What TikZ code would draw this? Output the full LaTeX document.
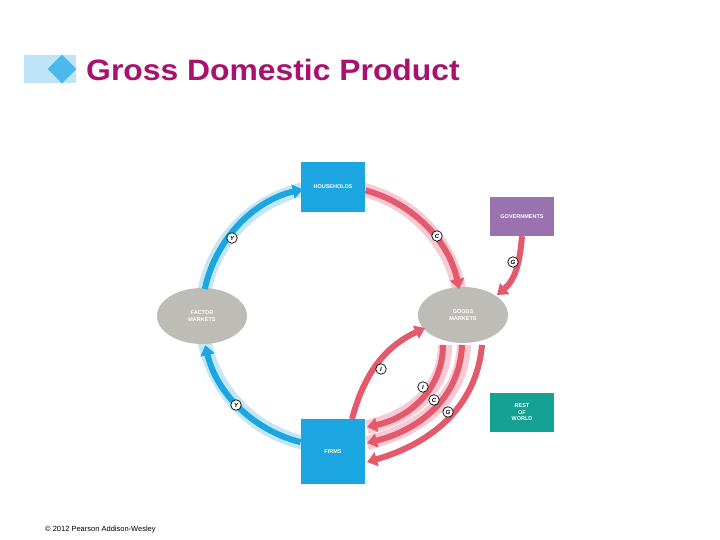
\documentclass[tikz,border=0pt]{standalone}
\usepackage{fontspec}
\setmainfont{Liberation Sans}
\usetikzlibrary{arrows.meta,shapes.geometric}
\definecolor{cblue}{HTML}{1BA6E1}
\definecolor{lblue}{HTML}{C4E6F5}
\definecolor{cred}{HTML}{E25A6B}
\definecolor{lred}{HTML}{F8CBD4}
\definecolor{cgray}{HTML}{BEBCB6}
\definecolor{cpurp}{HTML}{9A72B0}
\definecolor{cteal}{HTML}{16A195}
\definecolor{ctitle}{HTML}{A8126E}
\definecolor{cdia}{HTML}{4BB8EC}
\definecolor{cbar}{HTML}{BFE4F7}
\begin{document}
\begin{tikzpicture}[x=1pt,y=1pt,
  box/.style={fill=#1,minimum width=64pt,text=white,font=\bfseries\fontsize{5.5}{6.5}\selectfont,align=center,inner sep=1pt},
  mkt/.style={ellipse,fill=cgray,minimum width=90pt,minimum height=56pt,text=white,font=\bfseries\fontsize{5.5}{6.5}\selectfont,align=center},
  flowb/.style={cblue,line width=6pt,-{Triangle[length=10pt,width=14pt]}},
  flowr/.style={cred,line width=6pt,-{Triangle[length=10pt,width=14pt]}},
  halob/.style={lblue,line width=14pt},
  halor/.style={lred,line width=14pt},
  lab/.style={circle,draw=black,fill=white,line width=0.7pt,inner sep=0pt,minimum size=10.5pt,font=\bfseries\itshape\fontsize{6}{6}\selectfont}]
\useasboundingbox (0,0) rectangle (720,540);
\fill[white] (0,0) rectangle (720,540);
% title
\fill[cbar] (24,457) rectangle (76,485);
\node[diamond,fill=cdia,minimum width=29pt,minimum height=29pt,inner sep=0pt] (dia) at (62,471) {};
\node[anchor=west,text=ctitle,font=\bfseries\fontsize{29.5}{32}\selectfont,inner sep=0pt,xscale=1.08] (title) at (86,470) {Gross Domestic Product};
\node[anchor=west,font=\fontsize{7.5}{9}\selectfont,inner sep=0pt] (copy) at (45,10) {© 2012 Pearson Addison-Wesley};
\coordinate (O) at (332,224);
% halos
\draw[halob] (O) ++(170:130) arc (170:102:130);
\draw[halob] (O) ++(258:130) arc (258:191:130);
\draw[halor] (O) ++(77:130) arc (77:10:130);
\draw[halor] (445,195) to[out=-90,in=12] (367,113);
\draw[halor] (464,195) to[out=-92,in=14] (367,97);
% nodes
\node[box=cblue,minimum height=50pt] (hh) at (333,353) {HOUSEHOLDS};
\node[box=cblue,minimum height=65pt] (firms) at (333,88.5) {FIRMS};
\node[box=cpurp,minimum height=39pt] (gov) at (522,323.5) {GOVERNMENTS};
\node[box=cteal,minimum height=39pt] (row) at (522,127.5) {REST\\OF\\WORLD};
\node[mkt] (fm) at (202,224) {FACTOR\\MARKETS};
\node[mkt] (gm) at (463,225) {GOODS\\MARKETS};
% flows
\draw[flowb] (O) ++(168:130) arc (168:103:130);
\draw[flowb] (O) ++(256:130) arc (256:193:130);
\draw[flowr] (O) ++(75:130) arc (75:12:130);
\draw[flowr] (gov.south) to[out=-95,in=40] (497,245);
\draw[flowr] (352,121) to[out=75,in=205] (425,212);
\draw[flowr] (443,195) to[out=-90,in=12] (367,113);
\draw[flowr] (462,195) to[out=-92,in=14] (367,97);
\draw[flowr] (482,195) to[out=-95,in=16] (367,78);
% labels
\node[lab] (l1) at (232,302) {Y};
\node[lab] (l2) at (236,135) {Y};
\node[lab] (l3) at (437,304) {C};
\node[lab] (l4) at (513,278) {G};
\node[lab] (l5) at (381,171) {I};
\node[lab] (l6) at (423,153) {I};
\node[lab] (l7) at (434,140) {C};
\node[lab] (l8) at (448,128) {G};
\end{tikzpicture}
\end{document}
